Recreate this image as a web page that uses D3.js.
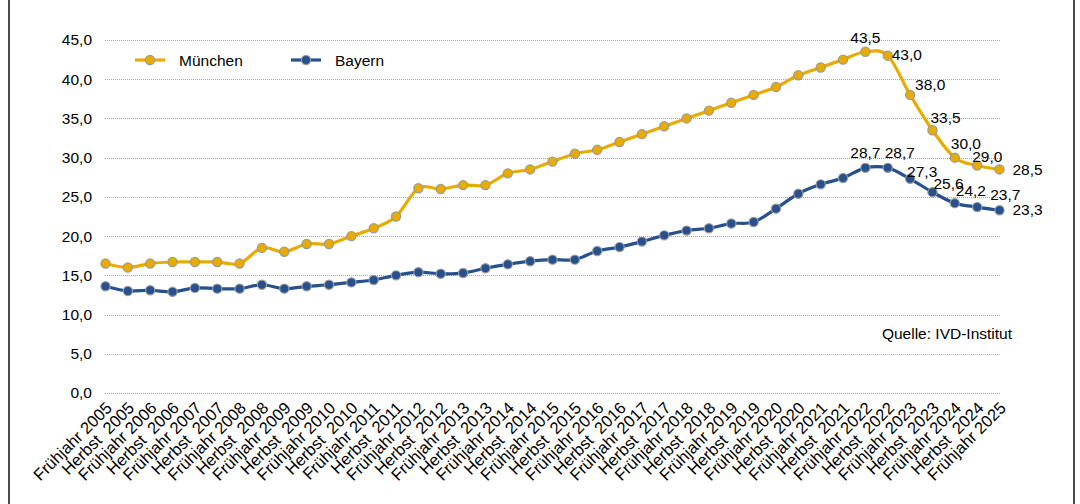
<!DOCTYPE html>
<html>
<head>
<meta charset="utf-8">
<script src="https://cdn.jsdelivr.net/npm/d3@7"></script>
<style>
	body { margin: 0; background: #fff; }
	#chart-area { width: 1080px; height: 504px; }
	text { font-family: "Liberation Sans", Arial, sans-serif; }
</style>
</head>
<body>
<div id="chart-area"></div>
<script>
// Categories (half-years)
var years = [2005, 2006, 2007, 2008, 2009, 2010, 2011, 2012, 2013, 2014, 2015,
	2016, 2017, 2018, 2019, 2020, 2021, 2022, 2023, 2024, 2025];
var periods = [];
for (var i = 0; i < years.length; i++) {
	periods.push("Frühjahr " + years[i]);
	if (i < years.length - 1) periods.push("Herbst  " + years[i]);
}

// Series values
var muenchen = [16.5, 16.0, 16.5, 16.7, 16.7, 16.7, 16.5, 18.5, 18.0, 19.0,
	19.0, 20.0, 21.0, 22.5, 26.1, 26.0, 26.5, 26.5, 28.0, 28.5,
	29.5, 30.5, 31.0, 32.0, 33.0, 34.0, 35.0, 36.0, 37.0, 38.0,
	39.0, 40.5, 41.5, 42.5, 43.5, 43.0, 38.0, 33.5, 30.0, 29.0, 28.5];
var bayern = [13.6, 13.0, 13.1, 12.9, 13.4, 13.3, 13.3, 13.8, 13.3, 13.6,
	13.8, 14.1, 14.4, 15.0, 15.4, 15.2, 15.3, 15.9, 16.4, 16.8,
	17.0, 17.0, 18.1, 18.6, 19.3, 20.1, 20.7, 21.0, 21.6, 21.8,
	23.5, 25.4, 26.6, 27.4, 28.7, 28.7, 27.3, 25.6, 24.2, 23.7, 23.3];

// Y tick values
var yTicks = [0, 5, 10, 15, 20, 25, 30, 35, 40, 45];

// Series names
var seriesNames = ["München", "Bayern"];

// Colors
var colors = { "München": "#e8ab00", "Bayern": "#26508e" };
var markerStroke = "#9a9a9a";

// Data labels are shown from this index on
var firstLabel = 34;

// Label offsets (dx, dy, anchor) for last points
var labelPosM = [[0, -9, "middle"], [4, 4, "start"], [5, -5, "start"], [-2, -7, "start"],
	[-4, -9, "start"], [-5, -4, "start"], [13, 6, "start"]];
var labelPosB = [[0, -10, "middle"], [-3, -10, "start"], [-3, -2, "start"], [1, -3, "start"],
	[1, -7, "start"], [13, -7, "start"], [13, 5, "start"]];

var canvasWidth = 1080;
var canvasHeight = 504;

var fmt = function(v) { return d3.format(".1f")(v).replace(".", ","); };

// Set Canvas
var canvas = d3.select("#chart-area")
	.append("svg")
	.attr("width", canvasWidth)
	.attr("height", canvasHeight);

// Frame
canvas.append("line").attr("x1", 9).attr("x2", 9).attr("y1", 0).attr("y2", canvasHeight)
	.attr("stroke", "#4a4a4a").attr("stroke-width", 2);
canvas.append("line").attr("x1", 1074).attr("x2", 1074).attr("y1", 0).attr("y2", canvasHeight)
	.attr("stroke", "#4a4a4a").attr("stroke-width", 2);

// Scales
var x = d3.scalePoint()
	.domain(d3.range(periods.length))
	.range([105.5, 999.5]);

var y = d3.scaleLinear()
	.domain([0, 45])
	.range([393, 40]);

// Gridlines
canvas.append("g")
	.selectAll("line")
	.data(yTicks)
	.enter().append("line")
	.attr("x1", 105)
	.attr("x2", 1000)
	.attr("y1", function(d) { return Math.round(y(d)) + 0.5; })
	.attr("y2", function(d) { return Math.round(y(d)) + 0.5; })
	.attr("stroke", "#a6a6a6")
	.attr("stroke-width", 1)
	.attr("stroke-dasharray", "1,1");

// Y axis
var yAxisCall = d3.axisLeft(y)
	.tickValues(yTicks)
	.tickSize(0)
	.tickPadding(0)
	.tickFormat(fmt);
var yAxis = canvas.append("g")
	.attr("transform", "translate(92,0)")
	.call(yAxisCall);
yAxis.select(".domain").remove();
yAxis.selectAll("text")
	.attr("font-size", "15.5px")
	.attr("font-family", "Liberation Sans, Arial, sans-serif")
	.attr("fill", "#000");

// X axis labels
var xAxisCall = d3.axisBottom(x)
	.tickSize(0)
	.tickFormat(function(d) { return periods[d]; });
var xAxis = canvas.append("g")
	.attr("transform", "translate(0,393)")
	.call(xAxisCall);
xAxis.select(".domain").remove();
xAxis.selectAll("text")
	.attr("font-size", "16.5px")
	.attr("font-family", "Liberation Sans, Arial, sans-serif")
	.attr("fill", "#000")
	.style("white-space", "pre")
	.attr("text-anchor", "end")
	.attr("y", 0)
	.attr("dy", 0)
	.attr("transform", "translate(7,16) rotate(-45)");

// Lines
var line = d3.line()
	.x(function(d, i) { return x(i); })
	.y(function(d) { return y(d); })
	.curve(d3.curveCatmullRom.alpha(0));

var seriesData = [muenchen, bayern];
var labelPos = [labelPosM, labelPosB];

seriesData.forEach(function(vals, s) {
	var col = colors[seriesNames[s]];
	canvas.append("path")
		.datum(vals)
		.attr("d", line)
		.attr("fill", "none")
		.attr("stroke", col)
		.attr("stroke-width", 3.2);

	canvas.append("g")
		.selectAll("circle")
		.data(vals)
		.enter().append("circle")
		.attr("cx", function(d, i) { return x(i); })
		.attr("cy", function(d) { return y(d); })
		.attr("r", 4.6)
		.attr("fill", col)
		.attr("stroke", markerStroke)
		.attr("stroke-width", 1.2);

	// Data labels
	canvas.append("g")
		.selectAll("text")
		.data(vals.slice(firstLabel))
		.enter().append("text")
		.attr("x", function(d, i) { return x(i + firstLabel) + labelPos[s][i][0]; })
		.attr("y", function(d, i) { return y(d) + labelPos[s][i][1]; })
		.attr("text-anchor", function(d, i) { return labelPos[s][i][2]; })
		.attr("font-size", "15.5px")
		.attr("fill", "#000")
		.text(fmt);
});

// Legend
var legend = canvas.append("g")
	.attr("transform", "translate(135,60)");
var legX = [0, 156];
seriesNames.forEach(function(name, i) {
	var row = legend.append("g")
		.attr("transform", "translate(" + legX[i] + ",0)");
	row.append("line")
		.attr("x1", 0).attr("x2", 30)
		.attr("stroke", colors[name])
		.attr("stroke-width", 3.2);
	row.append("circle")
		.attr("cx", 15)
		.attr("r", 4.6)
		.attr("fill", colors[name])
		.attr("stroke", markerStroke)
		.attr("stroke-width", 1.2);
	row.append("text")
		.attr("x", 44)
		.attr("y", 5.5)
		.attr("font-size", "15.5px")
		.attr("fill", "#000")
		.text(name);
});

// Source
canvas.append("text")
	.attr("x", 1012)
	.attr("y", 339)
	.attr("text-anchor", "end")
	.attr("font-size", "15.5px")
	.attr("fill", "#000")
	.text("Quelle: IVD-Institut");
</script>
</body>
</html>
